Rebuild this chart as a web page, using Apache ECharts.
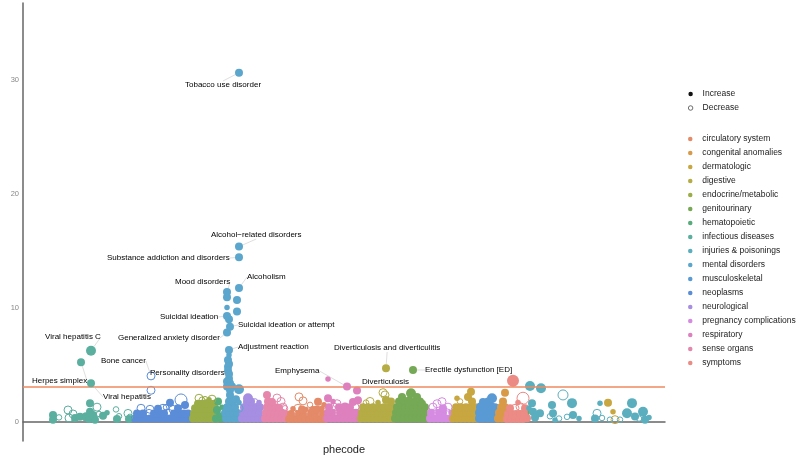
<!DOCTYPE html>
<html>
<head>
<meta charset="utf-8">
<script src="https://cdn.jsdelivr.net/npm/echarts@6/dist/echarts.min.js"></script>
<style>
  html, body { margin: 0; padding: 0; background: #fff; }
  #chart { width: 800px; height: 457px; }
</style>
</head>
<body>
<div id="chart"></div>
<script>
// legend order (alphabetical) and matching colours
const categories = [
  'circulatory system', 'congenital anomalies', 'dermatologic', 'digestive',
  'endocrine/metabolic', 'genitourinary', 'hematopoietic', 'infectious diseases',
  'injuries & poisonings', 'mental disorders', 'musculoskeletal', 'neoplasms',
  'neurological', 'pregnancy complications', 'respiratory', 'sense organs', 'symptoms'
];
const palette = [
  '#E48A68', '#D99A48', '#C8A640', '#B5AC45',
  '#9BAD46', '#76A955', '#56AC7A', '#5BAF9F',
  '#5AAEBE', '#5BA6CC', '#5A9AD4', '#5B8CD8',
  '#A68EE2', '#D68BE2', '#DD80BD', '#E686AA', '#EC8A86'
];

// each point: [phecode position, -log10(p), size class, direction (1 increase, 0 decrease)]
const infectious = [[30,0.6,3,1],[30,0.2,3,1],[36,0.4,2,0],[45,1.05,3,0],[46,0.35,3,0],[50,0.7,3,0],[52,0.35,3,1],[57,0.45,3,1],[62,0.3,2,1],[63,0.5,3,1],[67,1.65,3,1],[67,0.9,3,1],[66,0.25,3,1],[70,0.6,3,1],[72,0.2,3,1],[74,1.3,3,0],[76,0.7,2,0],[80,0.55,3,1],[84,0.8,2,1],[93,1.1,2,0],[94,0.25,3,1],[96,0.5,2,0],[105,0.75,3,0],[106,0.25,3,1],[107,0.45,2,0]];
const neoplasms = [[112,0.3,3,1],[117,0.3,3,1],[122,0.3,3,1],[127,0.3,3,1],[132,0.3,3,1],[137,0.3,3,1],[142,0.3,3,1],[147,0.3,3,1],[152,0.3,3,1],[157,0.3,3,1],[162,0.3,3,1],[166,0.3,3,1],[114,0.75,3,1],[120,0.75,3,1],[126,0.75,3,0],[131,0.75,3,1],[136,0.75,3,1],[141,0.75,3,1],[146,0.75,3,0],[151,0.75,3,1],[156,0.75,3,1],[161,0.75,3,1],[165,0.75,3,1],[118,1.2,3,0],[127,1.11,3,0],[135,1.15,3,1],[140,1.2,3,0],[147,1.69,3,1],[150,1.1,3,0],[158,1.93,5,0],[162,1.49,3,1],[155,1.2,3,1],[143,1.3,2,0],[128,2.78,3,0]];
const endocrine = [[170,0.3,3,1],[174,0.3,3,1],[178,0.3,3,1],[182,0.3,3,1],[186,0.3,3,1],[190,0.3,3,1],[194,0.3,3,1],[171,0.75,3,1],[175,0.75,3,1],[179,0.75,3,1],[183,0.75,3,1],[187,0.75,3,1],[191,0.75,3,1],[172,1.2,3,1],[176,1.2,3,1],[180,1.2,3,1],[184,1.2,3,1],[188,1.2,3,1],[192,1.2,3,1],[175,1.6,3,1],[179,1.6,3,1],[183,1.65,3,1],[187,1.6,3,1],[191,1.6,3,1],[176,2.08,3,0],[179,1.95,2,0],[182,2.0,2,0],[186,1.95,2,1],[189,2.0,3,0]];
const hematopoietic = [[195,1.8,3,1],[194,1.05,3,1],[197,0.5,3,1],[199,1.3,2,1],[193,0.3,3,1],[198,0.2,2,1]];
const mental = [[203,0.3,3,1],[207,0.3,3,1],[211,0.3,3,1],[215,0.3,3,1],[202,0.8,3,1],[206,0.8,3,1],[210,0.8,3,1],[214,0.8,3,1],[204,1.3,3,1],[208,1.3,3,1],[212,1.3,3,1],[216,1.2,3,0],[206,1.8,3,1],[210,1.8,3,1],[207,2.37,3,1],[213,2.0,3,1],[216,1.7,2,1],[204,10.94,3,1],[214,10.70,3,1],[204,10.03,2,1],[214,9.68,3,1],[206,9.01,3,1],[205,5.44,3,1],[206,5.09,3,1],[205,4.85,3,1],[206,5.88,2,1],[204,3.54,3,1],[207,3.39,3,1],[204,3.10,3,1],[209,3.10,3,1],[216,2.87,4,1],[207,2.81,3,1],[206,3.8,3,1],[205,4.5,3,1]];
const neurological = [[219,0.3,3,1],[223,0.3,3,1],[227,0.3,3,1],[231,0.3,3,1],[235,0.3,3,1],[239,0.3,3,1],[220,0.8,3,1],[224,0.8,3,1],[228,0.8,3,1],[232,0.8,3,1],[236,0.8,3,1],[221,1.3,3,1],[225,1.3,3,1],[229,1.3,3,1],[233,1.3,3,1],[237,1.3,3,1],[224,1.75,3,1],[228,1.8,3,1],[232,1.8,2,0],[225,2.08,4,1],[236,1.7,2,1]];
const senseOrgans = [[242,0.3,3,1],[246,0.3,3,1],[250,0.3,3,1],[254,0.3,3,1],[258,0.3,3,1],[262,0.3,3,1],[243,0.8,3,1],[247,0.8,3,1],[251,0.8,3,1],[255,0.8,3,1],[259,0.8,3,1],[263,0.8,2,1],[244,1.3,3,1],[248,1.3,3,1],[252,1.3,3,1],[256,1.25,3,1],[260,1.3,3,0],[245,1.8,3,1],[249,1.75,3,1],[244,2.37,3,1],[254,2.1,3,0],[258,1.8,3,0],[262,1.2,2,0]];
const circulatory = [[266,0.25,3,1],[270,0.25,3,1],[274,0.25,3,1],[278,0.25,3,1],[282,0.25,3,1],[286,0.25,3,1],[290,0.25,3,1],[294,0.25,3,1],[298,0.25,3,1],[302,0.25,3,1],[268,0.7,3,1],[272,0.7,3,0],[276,0.7,3,1],[280,0.7,3,1],[284,0.7,3,0],[288,0.7,3,1],[292,0.7,3,1],[296,0.7,3,0],[300,0.7,3,1],[270,1.15,2,1],[275,1.2,3,0],[279,1.1,3,1],[283,1.1,2,1],[290,1.05,3,1],[294,1.1,3,1],[299,1.2,2,1],[295,1.78,3,1],[276,2.2,3,0],[280,1.85,3,0],[287,1.5,2,0],[301,1.5,2,1]];
const respiratory = [[304,0.3,3,1],[308,0.3,3,1],[312,0.3,3,1],[316,0.3,3,1],[320,0.3,3,1],[324,0.3,3,1],[328,0.3,3,1],[332,0.3,3,1],[336,0.3,3,1],[305,0.8,3,1],[309,0.8,3,1],[313,0.8,3,0],[317,0.8,3,1],[321,0.8,3,1],[325,0.8,3,1],[329,0.8,3,1],[333,0.8,3,1],[306,1.3,3,1],[311,1.3,3,0],[316,1.3,3,1],[322,1.35,3,1],[327,1.3,3,1],[332,1.3,3,0],[305,2.08,3,1],[314,1.6,3,0],[310,1.8,2,1],[330,1.75,3,1],[335,1.9,3,1],[305,3.77,2,1],[334,2.75,3,1]];
const digestive = [[338,0.3,3,1],[342,0.3,3,1],[346,0.3,3,1],[350,0.3,3,1],[354,0.3,3,1],[358,0.3,3,1],[362,0.3,3,1],[366,0.3,3,1],[370,0.3,3,1],[339,0.8,3,1],[343,0.8,3,1],[347,0.8,3,1],[351,0.8,3,1],[355,0.8,3,1],[359,0.8,3,1],[363,0.8,3,1],[367,0.8,3,1],[371,0.8,3,1],[340,1.3,3,1],[345,1.3,3,1],[350,1.3,3,1],[356,1.3,3,1],[361,1.3,3,1],[366,1.3,3,1],[370,1.3,3,1],[347,1.8,3,0],[363,1.93,3,1],[362,2.37,3,0],[355,1.7,2,1],[343,1.7,2,0],[368,1.8,3,1]];
const genitourinary = [[372,0.3,3,1],[376,0.3,3,1],[380,0.3,3,1],[384,0.3,3,1],[388,0.3,3,1],[392,0.3,3,1],[396,0.3,3,1],[400,0.3,3,1],[404,0.3,3,1],[373,0.8,3,1],[377,0.8,3,1],[381,0.8,3,1],[385,0.8,3,1],[389,0.8,3,1],[393,0.8,3,1],[397,0.8,3,1],[401,0.8,3,1],[374,1.3,3,1],[378,1.3,3,1],[382,1.3,3,1],[386,1.3,3,1],[390,1.3,3,1],[394,1.3,3,1],[398,1.3,3,1],[402,1.3,3,1],[376,1.8,3,1],[381,1.85,3,1],[386,1.8,4,1],[392,1.8,3,1],[397,1.8,3,1],[388,2.52,4,1],[399,1.6,3,1],[379,2.2,3,1],[394,2.2,3,1],[504,0.8,2,1]];
const pregnancy = [[407,0.3,3,1],[411,0.3,3,1],[415,0.3,3,1],[419,0.3,3,1],[423,0.3,3,1],[427,0.3,3,1],[408,0.8,3,1],[412,0.8,3,0],[416,0.8,3,1],[420,0.8,3,1],[424,0.8,3,0],[410,1.3,3,0],[414,1.6,3,0],[420,1.2,3,1],[425,1.3,3,0],[419,1.78,3,0],[428,0.8,2,1]];
const dermatologic = [[430,0.3,3,1],[434,0.3,3,1],[438,0.3,3,1],[442,0.3,3,1],[446,0.3,3,1],[450,0.3,3,1],[454,0.3,3,1],[431,0.8,3,1],[435,0.8,3,1],[439,0.8,3,1],[443,0.8,3,1],[447,0.8,3,1],[451,0.8,3,1],[433,1.3,3,1],[438,1.3,3,1],[443,1.3,3,1],[448,1.3,3,1],[452,1.3,3,1],[437,1.8,2,0],[445,2.2,3,1],[448,2.66,3,1],[434,2.08,2,1],[449,1.8,3,1],[585,1.69,3,1],[590,0.9,2,1],[592,0.2,3,0]];
const musculoskeletal = [[456,0.3,3,1],[460,0.3,3,1],[464,0.3,3,1],[468,0.3,3,1],[472,0.3,3,1],[457,0.8,4,1],[461,0.8,4,1],[465,0.8,4,1],[469,0.8,4,1],[473,0.8,3,1],[458,1.3,4,1],[463,1.3,4,1],[468,1.3,4,1],[472,1.3,3,1],[460,1.75,3,1],[469,2.08,4,1],[465,1.8,3,1]];
const congenital = [[475,0.3,3,1],[479,0.3,3,1],[483,0.3,3,1],[476,0.8,3,1],[480,0.8,3,1],[484,0.8,3,1],[478,1.3,3,1],[482,1.3,3,1],[480,1.8,3,1],[482,2.57,3,1]];
const symptoms = [[484,0.25,3,1],[488,0.25,3,1],[492,0.25,3,1],[496,0.25,3,1],[500,0.25,3,1],[504,0.32,3,1],[485,0.7,3,1],[489,0.7,3,1],[493,0.7,3,1],[497,0.7,3,1],[501,0.7,3,1],[487,1.2,3,1],[492,1.2,3,0],[497,1.34,3,0],[502,1.2,3,1],[500,2.08,5,0],[490,3.62,5,1],[495,1.7,2,1]];
const injuries = [[507,3.16,4,1],[518,2.95,4,1],[509,1.65,3,1],[510,0.9,3,1],[517,0.76,3,1],[512,0.4,3,1],[506,1.2,2,1],[529,1.49,3,1],[530,0.76,3,1],[532,0.18,2,1],[527,0.5,2,0],[540,2.37,4,0],[549,1.65,4,1],[550,0.62,3,1],[544,0.45,2,0],[556,0.3,2,1],[536,0.3,2,0],[577,1.65,2,1],[574,0.76,3,0],[572,0.3,3,1],[587,0.2,2,0],[579,0.35,2,0],[609,1.65,4,1],[604,0.76,4,1],[612,0.47,3,1],[620,0.9,4,1],[622,0.2,3,1],[597,0.2,2,0],[616,0.3,2,0],[626,0.4,2,1]];

// drawing order follows phecode order
const plotOrder = [
  ['infectious diseases', infectious], ['neoplasms', neoplasms], ['endocrine/metabolic', endocrine],
  ['hematopoietic', hematopoietic], ['mental disorders', mental], ['neurological', neurological],
  ['sense organs', senseOrgans], ['circulatory system', circulatory], ['respiratory', respiratory],
  ['digestive', digestive], ['genitourinary', genitourinary], ['pregnancy complications', pregnancy],
  ['dermatologic', dermatologic], ['musculoskeletal', musculoskeletal], ['congenital anomalies', congenital],
  ['symptoms', symptoms], ['injuries & poisonings', injuries]
];

// labelled hits: [phenotype, category, position, -log10(p), size class, direction]
const hits = [
  ['Viral hepatitis C', 'infectious diseases', 68, 6.25, 4, 1],
  ['Herpes simplex', 'infectious diseases', 58, 5.24, 3, 1],
  ['Viral hepatitis', 'infectious diseases', 68, 3.39, 3, 1],
  ['Bone cancer', 'neoplasms', 128, 4.04, 3, 0],
  ['Personality disorders', 'mental disorders', 206, 4.21, 3, 1],
  ['Adjustment reaction', 'mental disorders', 206, 6.32, 3, 1],
  ['Generalized anxiety disorder', 'mental disorders', 204, 7.84, 3, 1],
  ['Suicidal ideation or attempt', 'mental disorders', 207, 8.36, 3, 1],
  ['Suicidal ideation', 'mental disorders', 204, 9.30, 3, 1],
  ['Mood disorders', 'mental disorders', 204, 11.40, 3, 1],
  ['Alcoholism', 'mental disorders', 216, 11.75, 3, 1],
  ['Substance addiction and disorders', 'mental disorders', 216, 14.45, 3, 1],
  ['Alcohol\u2212related disorders', 'mental disorders', 216, 15.38, 3, 1],
  ['Tobacco use disorder', 'mental disorders', 216, 30.64, 3, 1],
  ['Emphysema', 'respiratory', 324, 3.10, 3, 1],
  ['Diverticulosis and diverticulitis', 'digestive', 363, 4.71, 3, 1],
  ['Diverticulosis', 'digestive', 360, 2.57, 3, 0],
  ['Erectile dysfunction [ED]', 'genitourinary', 390, 4.56, 3, 1]
];

const threshold = 3.07;
const yTicks = [0, 10, 20, 30];

// where each label text starts (left edge, vertical middle), in pixels
const labelAt = {
  'Viral hepatitis C': [45, 337],
  'Herpes simplex': [32, 381],
  'Viral hepatitis': [103, 397],
  'Bone cancer': [101, 361],
  'Personality disorders': [150, 373],
  'Adjustment reaction': [238, 347],
  'Generalized anxiety disorder': [118, 338],
  'Suicidal ideation or attempt': [238, 325],
  'Suicidal ideation': [160, 317],
  'Mood disorders': [175, 282],
  'Alcoholism': [247, 277],
  'Substance addiction and disorders': [107, 258],
  'Alcohol\u2212related disorders': [211, 235],
  'Tobacco use disorder': [185, 85],
  'Emphysema': [275, 371],
  'Diverticulosis and diverticulitis': [334, 348],
  'Diverticulosis': [362, 382],
  'Erectile dysfunction [ED]': [425, 370]
};

const font = "'Liberation Sans', Arial, Helvetica, sans-serif";
const SIZE = [0, 4, 5.5, 8, 10, 12];
const colorOf = (cat) => palette[categories.indexOf(cat)];
const sizeOf = (d) => SIZE[d[2]];
const hollow = (c) => ({ color: 'rgba(0,0,0,0)', borderColor: c, borderWidth: 1, opacity: 1 });

const series = [];
plotOrder.forEach(([cat, pts]) => {
  series.push({
    name: cat, type: 'scatter', symbol: 'circle', silent: true,
    data: pts.filter((p) => p[3] === 1), symbolSize: sizeOf,
    itemStyle: { color: colorOf(cat), opacity: 1 }
  });
});
plotOrder.forEach(([cat, pts]) => {
  series.push({
    name: cat, type: 'scatter', symbol: 'circle', silent: true,
    data: pts.filter((p) => p[3] === 0), symbolSize: sizeOf,
    itemStyle: hollow(colorOf(cat))
  });
});

series.push({
  name: 'hits', type: 'scatter', symbol: 'circle', silent: true, z: 5,
  data: hits.map((h) => ({
    name: h[0],
    value: [h[2], h[3], h[4]],
    itemStyle: h[5] === 1 ? { color: colorOf(h[1]), opacity: 1 } : hollow(colorOf(h[1]))
  })),
  symbolSize: sizeOf,
  label: { show: true, formatter: '{b}', fontSize: 8, color: '#000', fontFamily: font },
  labelLayout: (p) => {
    const a = labelAt[hits[p.dataIndex][0]];
    return { x: a[0], y: a[1], align: 'left', verticalAlign: 'middle' };
  },
  labelLine: { show: true, lineStyle: { color: '#c8c8c8', width: 0.6 } },
  markLine: {
    silent: true, symbol: 'none', label: { show: false },
    lineStyle: { color: '#EF8A5F', width: 1.6, type: 'solid' },
    data: [{ yAxis: threshold }]
  }
});

series.push({ name: 'Increase', type: 'scatter', data: [], itemStyle: { color: '#111', opacity: 1 } });
series.push({ name: 'Decrease', type: 'scatter', data: [],
  itemStyle: { color: '#fff', borderColor: '#333', borderWidth: 0.7, opacity: 1 } });

const legendText = { fontSize: 8.5, lineHeight: 14, color: '#222', fontFamily: font };

const option = {
  animation: false,
  backgroundColor: '#fff',
  grid: { left: 23, right: 135, top: 3, bottom: 16, outerBoundsMode: 'none', containLabel: false },
  xAxis: {
    type: 'value', min: 0, max: 642,
    name: 'phecode', nameLocation: 'middle', nameGap: 3,
    nameTextStyle: { fontSize: 11, color: '#222', fontFamily: font, verticalAlign: 'top' },
    axisLine: { show: true, lineStyle: { color: '#666', width: 1.5 } },
    axisTick: { show: false }, axisLabel: { show: false }, splitLine: { show: false }
  },
  yAxis: {
    type: 'value', min: -1.67, max: 36.75,
    name: '-log(p, base = 10)', nameLocation: 'middle', nameGap: 5,
    nameTextStyle: { fontSize: 11, color: '#222', fontFamily: font },
    axisLine: { show: true, lineStyle: { color: '#666', width: 1.5 } },
    axisTick: { show: false },
    axisLabel: { customValues: yTicks, fontSize: 7.5, color: '#888', margin: 4, fontFamily: font },
    splitLine: { show: false }
  },
  legend: [
    {
      data: ['Increase', { name: 'Decrease', itemStyle: { borderWidth: 0.7 } }],
      orient: 'vertical', left: 683, top: 82,
      icon: 'circle', itemWidth: 14, itemHeight: 4.5, itemGap: 0,
      selectedMode: false, textStyle: legendText
    },
    {
      data: categories, orient: 'vertical', left: 683, top: 127,
      icon: 'circle', itemWidth: 14, itemHeight: 4.5, itemGap: 0,
      selectedMode: false, textStyle: legendText
    }
  ],
  series: series
};

const chart = echarts.init(document.getElementById('chart'), null, { renderer: 'canvas' });
chart.setOption(option);
</script>
</body>
</html>
